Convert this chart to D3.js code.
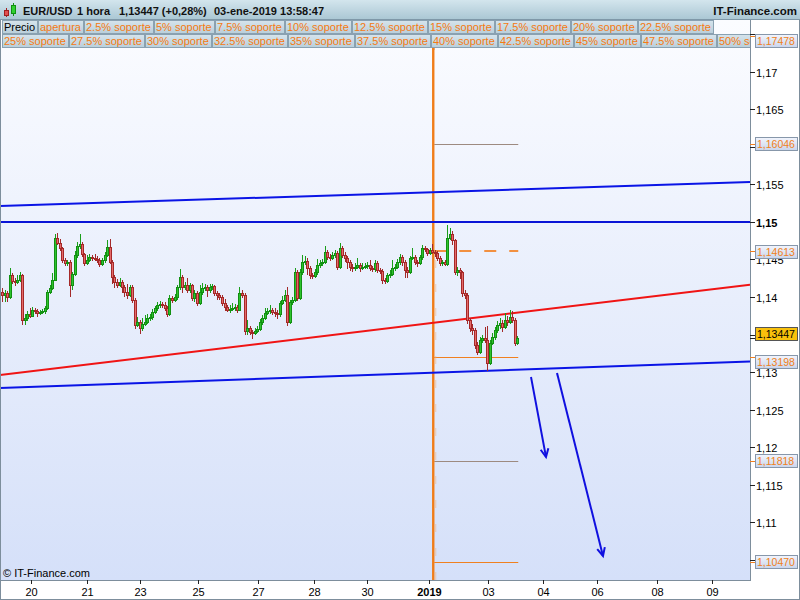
<!DOCTYPE html>
<html><head><meta charset="utf-8">
<script src="https://cdn.jsdelivr.net/npm/d3@7"></script>
<style>body{margin:0;background:#fff}svg{display:block}text{font-family:"Liberation Sans",Arial,sans-serif}</style>
</head><body><svg id="c" width="800" height="600"></svg>
<script>
// ---------- DATA ----------
const firstOpen = 1.1407;
const closes = [1.1403,1.1405,1.1400,1.1429,1.1421,1.1420,1.1423,1.1429,1.1369,1.1372,
1.1377,1.1375,1.1383,1.1381,1.1379,1.1380,1.1381,1.1385,1.1407,1.1412,
1.1423,1.1479,1.1472,1.1465,1.1449,1.1445,1.1447,1.1416,1.1431,1.1456,
1.1468,1.1471,1.1457,1.1445,1.1449,1.1453,1.1452,1.1451,1.1449,1.1444,
1.1449,1.1456,1.1467,1.1447,1.1427,1.1420,1.1416,1.1420,1.1413,1.1407,
1.1403,1.1413,1.1396,1.1363,1.1367,1.1359,1.1364,1.1367,1.1372,1.1373,
1.1380,1.1385,1.1389,1.1391,1.1389,1.1385,1.1377,1.1399,1.1396,1.1400,
1.1413,1.1427,1.1413,1.1416,1.1409,1.1416,1.1399,1.1405,1.1392,1.1407,
1.1412,1.1413,1.1409,1.1413,1.1415,1.1405,1.1403,1.1400,1.1392,1.1387,
1.1383,1.1384,1.1385,1.1387,1.1383,1.1405,1.1403,1.1355,1.1359,1.1353,
1.1352,1.1355,1.1357,1.1367,1.1372,1.1379,1.1381,1.1383,1.1380,1.1379,
1.1377,1.1392,1.1396,1.1403,1.1367,1.1393,1.1396,1.1433,1.1399,1.1433,
1.1447,1.1448,1.1439,1.1429,1.1428,1.1433,1.1443,1.1445,1.1447,1.1460,
1.1453,1.1452,1.1456,1.1459,1.1440,1.1465,1.1456,1.1452,1.1447,1.1440,
1.1439,1.1440,1.1443,1.1439,1.1440,1.1441,1.1443,1.1439,1.1437,1.1445,
1.1436,1.1435,1.1423,1.1421,1.1429,1.1431,1.1439,1.1440,1.1447,1.1453,
1.1447,1.1436,1.1433,1.1452,1.1453,1.1447,1.1445,1.1453,1.1465,1.1464,
1.1459,1.1463,1.1460,1.1459,1.1452,1.1445,1.1447,1.1444,1.1479,1.1484,
1.1476,1.1433,1.1436,1.1433,1.1405,1.1403,1.1369,1.1359,1.1356,1.1336,
1.1327,1.1343,1.1345,1.1343,1.1312,1.1339,1.1347,1.1356,1.1363,1.1365,
1.1360,1.1369,1.1367,1.1373,1.1369,1.1339,1.13447];
const highs = [1.1412,1.1410,1.1408,1.1439,1.1432,1.1425,1.1430,1.1433,1.1431,1.1377,
1.1381,1.1386,1.1387,1.1385,1.1384,1.1383,1.1384,1.1388,1.1409,1.1416,
1.1432,1.1484,1.1486,1.1478,1.1467,1.1452,1.1450,1.1449,1.1433,1.1462,
1.1473,1.1484,1.1473,1.1459,1.1456,1.1458,1.1456,1.1458,1.1455,1.1452,
1.1452,1.1460,1.1476,1.1478,1.1450,1.1430,1.1424,1.1425,1.1423,1.1416,
1.1418,1.1416,1.1416,1.1399,1.1373,1.1370,1.1372,1.1376,1.1378,1.1377,
1.1384,1.1388,1.1393,1.1395,1.1394,1.1393,1.1388,1.1403,1.1402,1.1404,
1.1416,1.1438,1.1430,1.1420,1.1425,1.1419,1.1418,1.1409,1.1408,1.1416,
1.1419,1.1417,1.1416,1.1418,1.1418,1.1416,1.1408,1.1406,1.1403,1.1398,
1.1390,1.1389,1.1392,1.1391,1.1390,1.1413,1.1410,1.1405,1.1369,1.1362,
1.1356,1.1359,1.1362,1.1371,1.1376,1.1385,1.1386,1.1389,1.1386,1.1385,
1.1383,1.1395,1.1402,1.1409,1.1414,1.1396,1.1400,1.1439,1.1436,1.1437,
1.1456,1.1455,1.1452,1.1441,1.1432,1.1437,1.1451,1.1449,1.1451,1.1468,
1.1463,1.1457,1.1460,1.1463,1.1461,1.1472,1.1468,1.1460,1.1455,1.1450,
1.1444,1.1446,1.1452,1.1446,1.1445,1.1446,1.1447,1.1450,1.1442,1.1450,
1.1448,1.1439,1.1437,1.1426,1.1432,1.1436,1.1450,1.1444,1.1451,1.1458,
1.1456,1.1450,1.1440,1.1455,1.1465,1.1456,1.1450,1.1456,1.1469,1.1468,
1.1466,1.1466,1.1471,1.1463,1.1461,1.1455,1.1450,1.1449,1.1496,1.1492,
1.1488,1.1478,1.1440,1.1439,1.1435,1.1409,1.1405,1.1372,1.1364,1.1359,
1.1340,1.1347,1.1349,1.1360,1.1362,1.1343,1.1352,1.1360,1.1368,1.1372,
1.1370,1.1379,1.1375,1.1383,1.1381,1.1372,1.1348];
const lows = [1.1393,1.1394,1.1393,1.1398,1.1418,1.1415,1.1417,1.1420,1.1363,1.1363,
1.1368,1.1372,1.1373,1.1377,1.1374,1.1376,1.1377,1.1378,1.1383,1.1404,
1.1410,1.1421,1.1469,1.1462,1.1445,1.1441,1.1442,1.1400,1.1410,1.1428,
1.1452,1.1464,1.1454,1.1441,1.1443,1.1447,1.1448,1.1448,1.1445,1.1440,
1.1442,1.1446,1.1453,1.1444,1.1417,1.1412,1.1412,1.1413,1.1405,1.1400,
1.1398,1.1400,1.1392,1.1357,1.1360,1.1351,1.1355,1.1361,1.1364,1.1368,
1.1370,1.1377,1.1382,1.1386,1.1386,1.1381,1.1373,1.1375,1.1392,1.1394,
1.1396,1.1410,1.1405,1.1410,1.1405,1.1406,1.1395,1.1394,1.1388,1.1390,
1.1403,1.1408,1.1400,1.1406,1.1410,1.1401,1.1396,1.1396,1.1388,1.1382,
1.1380,1.1379,1.1381,1.1382,1.1379,1.1381,1.1399,1.1349,1.1350,1.1349,
1.1344,1.1349,1.1352,1.1355,1.1363,1.1369,1.1376,1.1378,1.1376,1.1373,
1.1371,1.1374,1.1390,1.1393,1.1361,1.1364,1.1390,1.1393,1.1395,1.1396,
1.1430,1.1443,1.1430,1.1424,1.1424,1.1425,1.1430,1.1439,1.1441,1.1444,
1.1449,1.1448,1.1449,1.1452,1.1436,1.1438,1.1452,1.1447,1.1438,1.1435,
1.1433,1.1435,1.1437,1.1434,1.1436,1.1437,1.1438,1.1435,1.1433,1.1434,
1.1432,1.1431,1.1418,1.1417,1.1419,1.1425,1.1428,1.1435,1.1437,1.1443,
1.1442,1.1425,1.1425,1.1431,1.1449,1.1443,1.1440,1.1443,1.1450,1.1460,
1.1455,1.1456,1.1457,1.1454,1.1448,1.1442,1.1442,1.1441,1.1442,1.1476,
1.1470,1.1429,1.1428,1.1424,1.1400,1.1398,1.1364,1.1353,1.1349,1.1331,
1.1323,1.1324,1.1339,1.1339,1.1302,1.1309,1.1336,1.1343,1.1352,1.1358,
1.1353,1.1357,1.1361,1.1364,1.1365,1.1335,1.1336];

const xTickLabels = ["20","21","23","25","27","28","30","2019","03","04","06","08","09"];
const xTickBars   = [11.6,34,55.2,78.4,102.4,124.8,146,170.8,194.4,216.4,238,262,284];
const yTickValues = [1.105,1.11,1.115,1.12,1.125,1.13,1.135,1.14,1.145,1.15,1.155,1.16,1.165,1.17,1.175];
const yTickLabels = ["1,105","1,11","1,115","1,12","1,125","1,13","1,135","1,14","1,145","1,15","1,155","1,16","1,165","1,17","1,175"];

const supportLevels = [1.17478,1.16046,1.14613,1.13198,1.11818,1.10470];
const supportLabels = ["1,17478","1,16046","1,14613","1,13198","1,11818","1,10470"];
const lastPrice = 1.13447;
const lastPriceLabel = "1,13447";
const yearStartBar = 172.5;
const levelEndBar = 206.5;

// trend lines: [bar0, price0, bar1, price1]
const channelTop    = [-0.8, 1.15213, 299.2, 1.15533];
const resistance    = [-0.8, 1.15000, 299.2, 1.15000];
const redTrend      = [-0.8, 1.12960, 299.2, 1.14165];
const channelBottom = [-0.8, 1.12787, 299.2, 1.13140];
const arrows = [[211.6, 1.12933, 217.6, 1.11867],[222.0, 1.12987, 240.4, 1.10547]];

const headerParts = ["EUR/USD","1 hora","1,13447 (+0,28%)","03-ene-2019 13:58:47"];
const legendRow1 = ["Precio","apertura","2.5% soporte","5% soporte","7.5% soporte","10% soporte","12.5% soporte","15% soporte","17.5% soporte","20% soporte","22.5% soporte"];
const legendRow2 = ["25% soporte","27.5% soporte","30% soporte","32.5% soporte","35% soporte","37.5% soporte","40% soporte","42.5% soporte","45% soporte","47.5% soporte","50% soporte"];

// ---------- CHART ----------
const svg = d3.select("#c");
const W = 800, H = 600, PL = 0, PR = 750, PT = 20, PB = 580;
const x = d3.scaleLinear().domain([-0.8, 299.2]).range([PL, PR]);
const y = d3.scaleLinear().domain([1.10, 1.18]).range([597, -3]);

const defs = svg.append("defs");
const g1 = defs.append("linearGradient").attr("id","bg").attr("x1",0).attr("y1",0).attr("x2",0).attr("y2",1);
g1.append("stop").attr("offset","0%").attr("stop-color","#fbfcff");
g1.append("stop").attr("offset","100%").attr("stop-color","#d5e0f9");
const g2 = defs.append("linearGradient").attr("id","hdr").attr("x1",0).attr("y1",0).attr("x2",0).attr("y2",1);
g2.append("stop").attr("offset","0%").attr("stop-color","#d3e5ed");
g2.append("stop").attr("offset","100%").attr("stop-color","#a9c6d3");
const g3 = defs.append("linearGradient").attr("id","btn").attr("x1",0).attr("y1",0).attr("x2",0).attr("y2",1);
g3.append("stop").attr("offset","0%").attr("stop-color","#d6e4ec");
g3.append("stop").attr("offset","100%").attr("stop-color","#b9cfda");
const g4 = defs.append("linearGradient").attr("id","box").attr("x1",0).attr("y1",0).attr("x2",0).attr("y2",1);
g4.append("stop").attr("offset","0%").attr("stop-color","#f2f5fd");
g4.append("stop").attr("offset","100%").attr("stop-color","#c9d5ec");
defs.append("clipPath").attr("id","clip").append("rect").attr("x",PL).attr("y",PT).attr("width",PR-PL).attr("height",PB-PT);

svg.append("rect").attr("width",W).attr("height",H).attr("fill","#fff");
svg.append("rect").attr("x",PL).attr("y",PT).attr("width",PR-PL).attr("height",PB-PT).attr("fill","url(#bg)");

const plot = svg.append("g").attr("clip-path","url(#clip)");

// support levels
const lvlStyle = [
  {stroke:"#f08020", w:1, dash:null},
  {stroke:"#9d8a80", w:1, dash:null},
  {stroke:"#f29040", w:2, dash:"12,13"},
  {stroke:"#f08020", w:1, dash:null},
  {stroke:"#9d8a80", w:1, dash:null},
  {stroke:"#f08020", w:1, dash:null}];
supportLevels.forEach((v,k)=>{
  const yy = Math.round(y(v)) + (lvlStyle[k].w===1?0.5:0);
  plot.append("line").attr("x1",x(yearStartBar)+1).attr("x2",x(levelEndBar)).attr("y1",yy).attr("y2",yy)
    .attr("stroke",lvlStyle[k].stroke).attr("stroke-width",lvlStyle[k].w)
    .attr("stroke-dasharray",lvlStyle[k].dash);
});

// year separator
const xs = x(yearStartBar);
plot.append("line").attr("x1",xs).attr("x2",xs).attr("y1",48).attr("y2",PB).attr("stroke","#f07d1a").attr("stroke-width",2.4);
plot.append("line").attr("x1",xs+2.5).attr("x2",xs+2.5).attr("y1",260).attr("y2",PB).attr("stroke","#f5b57a").attr("stroke-width",1).attr("stroke-dasharray","8,16").attr("opacity",0.6);

// trend lines
function tline(a, color, w){
  plot.append("line").attr("x1",x(a[0])).attr("y1",y(a[1])).attr("x2",x(a[2])).attr("y2",y(a[3]))
   .attr("stroke",color).attr("stroke-width",w);
}
tline(channelTop,"#0a14e6",2);
tline(resistance,"#0a14d6",2);
tline(redTrend,"#f01414",2);
tline(channelBottom,"#0a14e6",2);

// candles
const bars = closes.map((c,i)=>({i, o: i ? closes[i-1] : firstOpen, c, h: highs[i], l: lows[i]}));
const cg = plot.append("g").attr("shape-rendering","crispEdges");
bars.forEach(b=>{
  const up = b.c >= b.o;
  const cx = x(b.i);
  const wx = Math.round(cx) + 0.5;
  cg.append("line").attr("x1",wx).attr("x2",wx).attr("y1",y(b.h)).attr("y2",y(b.l))
    .attr("stroke", up ? "#1a9e1a" : "#a32a2a").attr("stroke-width",1);
  const top = Math.round(y(Math.max(b.o,b.c))), bot = Math.round(y(Math.min(b.o,b.c)));
  const bh = Math.max(1, bot-top);
  cg.append("rect").attr("x",Math.round(cx)-0.5).attr("y",top+0.5).attr("width",2).attr("height",bh)
    .attr("fill", up ? "#2ec32e" : "#e46a6a").attr("stroke", up ? "#129012" : "#a52828").attr("stroke-width",1);
});

// arrows
arrows.forEach(a=>{
  const x1=x(a[0]), y1=y(a[1]), x2=x(a[2]), y2=y(a[3]);
  plot.append("line").attr("x1",x1).attr("y1",y1).attr("x2",x2).attr("y2",y2).attr("stroke","#1010e0").attr("stroke-width",2);
  const ang = Math.atan2(y2-y1, x2-x1), L = 9, s = 0.45;
  const p = [[x2 - L*Math.cos(ang - s), y2 - L*Math.sin(ang - s)],[x2,y2],[x2 - L*Math.cos(ang + s), y2 - L*Math.sin(ang + s)]];
  plot.append("path").attr("d", d3.line()(p)).attr("fill","none").attr("stroke","#1010e0").attr("stroke-width",2);
});

// copyright
svg.append("text").attr("x",3).attr("y",577).attr("font-size",11).attr("fill","#000").text("© IT-Finance.com");

// plot borders
svg.append("line").attr("x1",0.5).attr("x2",0.5).attr("y1",PT).attr("y2",PB).attr("stroke","#7d8e9c");
svg.append("line").attr("x1",0).attr("x2",PR+1).attr("y1",PB+0.5).attr("y2",PB+0.5).attr("stroke","#7d8e9c");
svg.append("line").attr("x1",PR+0.5).attr("x2",PR+0.5).attr("y1",PT).attr("y2",PB+1).attr("stroke","#7d8e9c");
svg.append("rect").attr("x",0.5).attr("y",0.5).attr("width",W-1).attr("height",H-1).attr("fill","none").attr("stroke","#7d8e9c");

// header
svg.append("rect").attr("x",0).attr("y",0).attr("width",W).attr("height",20).attr("fill","url(#hdr)");
svg.append("line").attr("x1",0).attr("x2",W).attr("y1",19.5).attr("y2",19.5).attr("stroke","#7f98a8");
svg.append("line").attr("x1",6.5).attr("x2",6.5).attr("y1",8).attr("y2",17).attr("stroke","#a02020");
svg.append("rect").attr("x",4.5).attr("y",10.5).attr("width",4).attr("height",5).attr("fill","#e05050").attr("stroke","#a02020");
svg.append("line").attr("x1",13.5).attr("x2",13.5).attr("y1",3).attr("y2",16).attr("stroke","#109010");
svg.append("rect").attr("x",11.5).attr("y",5.5).attr("width",4).attr("height",8).attr("fill","#30d030").attr("stroke","#109010");
const hx = [23, 77, 119, 214];
headerParts.forEach((t,k)=>svg.append("text").attr("x",hx[k]).attr("y",14.5).attr("font-size",11).attr("font-weight","bold").attr("fill","#111").text(t));
svg.append("text").attr("x",797).attr("y",14.5).attr("text-anchor","end").attr("font-size",11.5).attr("font-weight","bold").attr("fill","#111").text("IT-Finance.com");

// legend rows
function legendRow(items, yTop, maxX){
  let cx = 2;
  const gRow = svg.append("g");
  items.forEach((t,k)=>{
    const tx = gRow.append("text").attr("x",cx+2).attr("y",yTop+11).attr("font-size",11)
      .attr("fill", t==="Precio" ? "#000" : "#f57a12").text(t);
    const tw = tx.node().getComputedTextLength();
    let bw = Math.round(tw + 4);
    if (cx + bw > maxX) bw = maxX - cx;
    gRow.insert("rect","text").attr("x",cx+0.5).attr("y",yTop+0.5).attr("width",bw).attr("height",13)
      .attr("fill","url(#btn)").attr("stroke","#8aa1b1");
    cx += bw + 1;
  });
  return gRow;
}
legendRow(legendRow1, 20, 750);
const r2 = legendRow(legendRow2, 34, 750);
svg.append("clipPath").attr("id","legclip").append("rect").attr("x",0).attr("y",0).attr("width",750).attr("height",600);
r2.attr("clip-path","url(#legclip)");
svg.append("line").attr("x1",xs).attr("x2",xs).attr("y1",48).attr("y2",50).attr("stroke","#f07d1a").attr("stroke-width",2.4);

// value boxes layout (computed first so hidden tick labels can be skipped)
const boxes = supportLevels.map((v,k)=>({v, label:supportLabels[k], cur:false}))
  .concat([{v:lastPrice, label:lastPriceLabel, cur:true}]);
boxes.forEach(b=>{ b.ly = y(b.v); b.cy = b.ly; });
boxes.sort((a,b)=>a.ly-b.ly);
for (let it=0; it<5; it++){
  for (let k=1;k<boxes.length;k++){
    const d = boxes[k].cy - boxes[k-1].cy;
    if (d < 28){ const m=(boxes[k].cy+boxes[k-1].cy)/2; boxes[k-1].cy = m-14; boxes[k].cy = m+14; }
  }
  boxes[0].cy = Math.max(boxes[0].cy, 40.5);
}

// right axis
const ax = svg.append("g");
yTickValues.forEach((v,k)=>{
  const yy = Math.round(y(v)) + 0.5;
  ax.append("line").attr("x1",PR).attr("x2",PR+5).attr("y1",yy).attr("y2",yy).attr("stroke","#222");
  const hidden = boxes.some(b=>Math.abs(b.cy - yy) < 7);
  if (!hidden)
    ax.append("text").attr("x",PR+6).attr("y",yy+4).attr("font-size",11)
      .attr("font-weight", v===1.15 ? "bold" : null).attr("fill","#000").text(yTickLabels[k]);
});

boxes.forEach(b=>{
  const ly = Math.round(b.ly)+0.5;
  ax.append("line").attr("x1",PR).attr("x2",PR+6).attr("y1",ly).attr("y2",ly).attr("stroke", b.cur ? "#222" : "#f08020");
  const top = Math.round(b.cy - 6.5) + 0.5;
  ax.append("rect").attr("x",755.5).attr("y",top).attr("width",42).attr("height",13)
    .attr("fill", b.cur ? "#f9c10c" : "url(#box)").attr("stroke", b.cur ? "#555" : "#8797aa");
  ax.append("text").attr("x",757).attr("y",top+10.5).attr("font-size",10.5)
    .attr("fill", b.cur ? "#000" : "#f08020").text(b.label);
});

// bottom axis
xTickBars.forEach((b,k)=>{
  const xx = Math.round(x(b)) + 0.5;
  svg.append("line").attr("x1",xx).attr("x2",xx).attr("y1",PB).attr("y2",PB+4).attr("stroke","#222");
  svg.append("text").attr("x",xx).attr("y",596).attr("text-anchor","middle").attr("font-size",11)
    .attr("font-weight", xTickLabels[k]==="2019" ? "bold" : null).attr("fill","#000").text(xTickLabels[k]);
});
</script></body></html>
